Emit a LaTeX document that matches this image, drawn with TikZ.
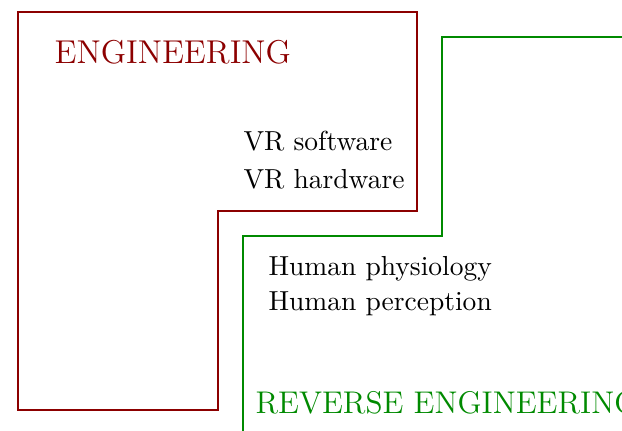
\documentclass[tikz,border=0pt]{standalone}
\usepackage{tikz}
\definecolor{engred}{RGB}{140,0,0}
\definecolor{revgreen}{RGB}{0,138,0}

\begin{document}
\begin{tikzpicture}[x=0.3635pt, y=-0.3635pt,
    field/.style={line width=0.8pt},
    label/.style={anchor=base west, inner sep=0pt}]
        \useasboundingbox (0,0) rectangle (622,430);
        \clip (0,0) rectangle (622,430);
        % engineering
        \draw[field, engred] (18,12) -- (417,12) -- (417,211) -- (218,211) -- (218,410) -- (18,410) -- cycle;
        \node[label, engred, font=\large] (eng) at (54,63) {ENGINEERING};
        \node[label] (vrsw) at (243,150) {VR software};
        \node[label] (vrhw) at (243,188) {VR hardware};
        % reverse engineering
        \draw[field, revgreen] (243,440) -- (243,236) -- (442,236) -- (442,37) -- (640,37);
        \node[label] (phys) at (268,275) {Human physiology};
        \node[label] (perc) at (268,310) {Human perception};
        \node[label, revgreen, font=\fontsize{11.4}{14}\selectfont] (reveng) at (255,413) {REVERSE ENGINEERING};
    \end{tikzpicture}
\end{document}
